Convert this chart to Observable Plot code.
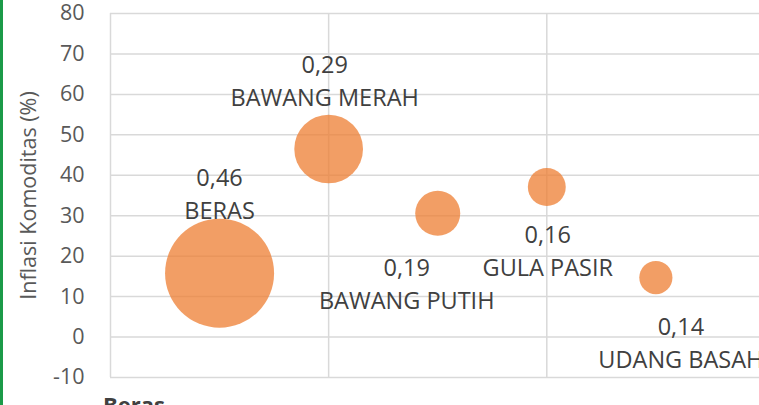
<!DOCTYPE html>
<html>
<head>
<meta charset="utf-8">
<script src="https://cdn.jsdelivr.net/npm/d3@7"></script>
<script src="https://cdn.jsdelivr.net/npm/@observablehq/plot@0.6"></script>
<style>
  html, body { margin: 0; padding: 0; background: #fff; overflow: hidden; }
  body { width: 759px; height: 405px; position: relative; font-family: "Open Sans", sans-serif; }
  #border { position: absolute; left: 0; top: 0; width: 3px; height: 405px; background: #1b9a48; }
  #caption { padding-left: 103px; margin-top: 3px; font-weight: bold; font-size: 22px; line-height: 22px; color: #404040; }
</style>
</head>
<body>
<div id="border"></div>
<div id="chart"></div>
<div id="caption">Beras</div>
<script>
const categories = ["BERAS", "BAWANG MERAH", "BAWANG PUTIH", "GULA PASIR", "UDANG BASAH"];
const xValues = [1, 2, 3, 4, 5];
const inflation = [15.8, 46.5, 30.6, 37.1, 14.7];
const weights = [0.46, 0.29, 0.19, 0.16, 0.14];
const yTicks = [-10, 0, 10, 20, 30, 40, 50, 60, 70, 80];
const xGrid = [0, 2, 4];
const yLabel = "Inflasi Komoditas (%)";

const data = categories.map((c, i) => ({ name: c, x: xValues[i], y: inflation[i], w: weights[i] }));
const fmt = v => v.toFixed(2).replace(".", ",");

// label placement (pixel offsets of value label; name label sits one line below)
const labelOffset = {
  "BERAS": { dx: 0, dy: -95 },
  "BAWANG MERAH": { dx: -4, dy: -84 },
  "BAWANG PUTIH": { dx: -31, dy: 55 },
  "GULA PASIR": { dx: 1, dy: 48 },
  "UDANG BASAH": { dx: 25, dy: 50 }
};
const lineGap = 33;
const labelSize = 23.5;

const labelMarks = data.flatMap(d => {
  const o = labelOffset[d.name];
  return [
    Plot.text([d], { x: "x", y: "y", text: e => fmt(e.w), dx: o.dx, dy: o.dy, fill: "#404040", fontSize: labelSize, lineAnchor: "middle", textAnchor: "middle" }),
    Plot.text([d], { x: "x", y: "y", text: "name", dx: o.dx, dy: o.dy + lineGap, fill: "#404040", fontSize: labelSize, lineAnchor: "middle", textAnchor: "middle" })
  ];
});

const chart = Plot.plot({
  width: 759,
  height: 390,
  marginLeft: 110,
  marginRight: 0,
  marginTop: 13,
  marginBottom: 13,
  style: { fontFamily: "Open Sans, sans-serif", background: "transparent", overflow: "visible" },
  x: { domain: [0, 5.95], axis: null },
  y: { domain: [-10, 80] },
  r: { type: "linear", domain: [0, 0.46], range: [0, 54.5] },
  marks: [
    Plot.gridY(yTicks, { stroke: "#d9d9d9", strokeOpacity: 1, strokeWidth: 1.5 }),
    Plot.gridX(xGrid, { stroke: "#d9d9d9", strokeOpacity: 1, strokeWidth: 1.5 }),
    Plot.axisY(yTicks, { tickSize: 0, tickPadding: 26, fontSize: 21.5, color: "#595959", tickFormat: d => String(d), label: yLabel, labelAnchor: "center", labelArrow: "none", labelOffset: 90 }),
    Plot.dot(data, { x: "x", y: "y", r: "w", fill: "#ED7D31", fillOpacity: 0.75, stroke: "none" }),
    ...labelMarks
  ]
});
document.getElementById("chart").appendChild(chart);
</script>
</body>
</html>
